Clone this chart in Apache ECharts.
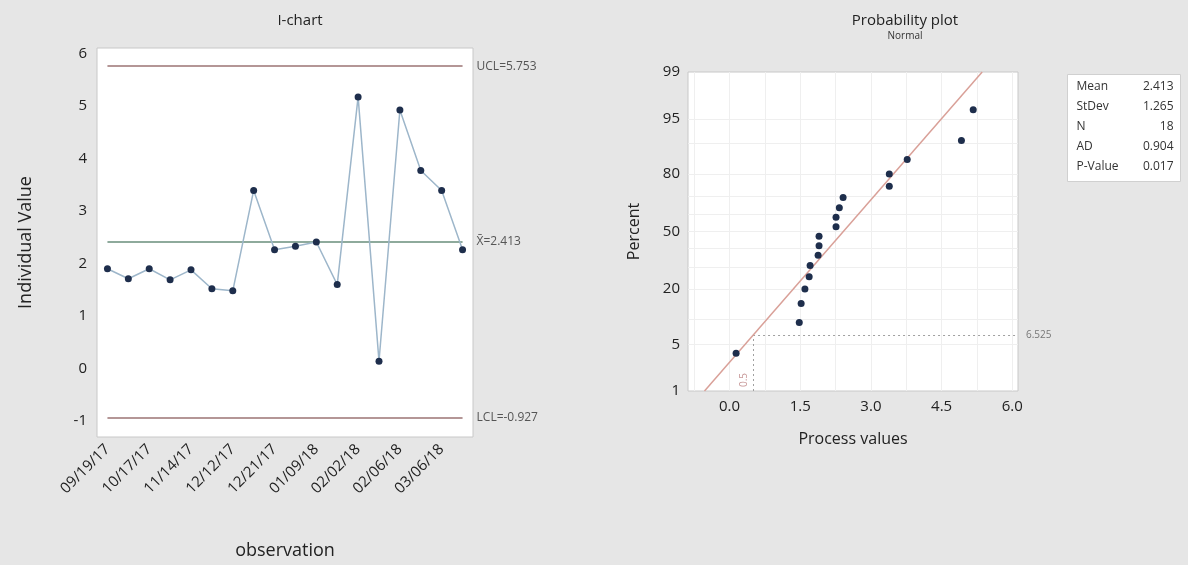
<!DOCTYPE html>
<html>
<head>
<meta charset="utf-8">
<script src="https://cdn.jsdelivr.net/npm/echarts@6/dist/echarts.min.js"></script>
<style>
html,body{margin:0;padding:0;background:#e6e6e6;}
#chart{width:1188px;height:565px;}
</style>
</head>
<body>
<div id="chart"></div>
<script>
// ---------- I-chart data ----------
const observations = ['1','2','3','4','5','6','7','8','9','10','11','12','13','14','15','16','17','18'];
const dateLabels = ['09/19/17','10/17/17','11/14/17','12/12/17','12/21/17','01/09/18','02/02/18','02/06/18','03/06/18'];
const individualValues = [1.90, 1.71, 1.90, 1.69, 1.88, 1.52, 1.48, 3.39, 2.26, 2.33, 2.41, 1.60, 5.17, 0.14, 4.92, 3.77, 3.39, 2.26];
const UCL = 5.753;
const MEAN = 2.413;
const LCL = -0.927;
const iChartYTicks = [-1, 0, 1, 2, 3, 4, 5, 6];

// ---------- Probability plot data ----------
const probPercent = [3.8, 9.2, 14.7, 20.1, 25.5, 31.0, 36.4, 41.8, 47.3, 52.7, 58.2, 63.6, 69.0, 74.5, 79.9, 85.3, 90.8, 96.2];
const fitLine = [[-0.53, 1], [5.36, 99]];
const probYTicks = [1, 5, 20, 50, 80, 95, 99];
const probYGrid = [1, 5, 10, 20, 30, 40, 50, 60, 70, 80, 90, 95, 99];
const probXTicks = [0, 1.5, 3, 4.5, 6];
const probXGrid = [-0.75, 0, 0.75, 1.5, 2.25, 3, 3.75, 4.5, 5.25, 6];
const refValue = 0.5;
const refPercent = 6.525;
const statLabels = ['Mean', 'StDev', 'N', 'AD', 'P-Value'];
const statValues = ['2.413', '1.265', '18', '0.904', '0.017'];

// normal probability scale (percent -> z)
function probit(p) {
  const a=[-3.969683028665376e+01,2.209460984245205e+02,-2.759285104469687e+02,1.383577518672690e+02,-3.066479806614716e+01,2.506628277459239e+00];
  const b=[-5.447609879822406e+01,1.615858368580409e+02,-1.556989798598866e+02,6.680131188771972e+01,-1.328068155288572e+01];
  const c=[-7.784894002430293e-03,-3.223964580411365e-01,-2.400758277161838e+00,-2.549732539343734e+00,4.374664141464968e+00,2.938163982698783e+00];
  const d=[7.784695709041462e-03,3.224671290700398e-01,2.445134137142996e+00,3.754408661907416e+00];
  const pl=0.02425, ph=1-pl;
  let q, r;
  if (p < pl) {
    q = Math.sqrt(-2*Math.log(p));
    return (((((c[0]*q+c[1])*q+c[2])*q+c[3])*q+c[4])*q+c[5])/((((d[0]*q+d[1])*q+d[2])*q+d[3])*q+1);
  } else if (p <= ph) {
    q = p-0.5; r = q*q;
    return (((((a[0]*r+a[1])*r+a[2])*r+a[3])*r+a[4])*r+a[5])*q/(((((b[0]*r+b[1])*r+b[2])*r+b[3])*r+b[4])*r+1);
  } else {
    q = Math.sqrt(-2*Math.log(1-p));
    return -(((((c[0]*q+c[1])*q+c[2])*q+c[3])*q+c[4])*q+c[5])/((((d[0]*q+d[1])*q+d[2])*q+d[3])*q+1);
  }
}
const z = pct => probit(pct/100);

const sortedValues = individualValues.slice().sort((x, y) => x - y);
const probPoints = sortedValues.map((v, i) => [v, z(probPercent[i])]);
const zTicks = probYTicks.map(z);

const FONT = 'Open Sans';
const chart = echarts.init(document.getElementById('chart'));

const option = {
  backgroundColor: '#e6e6e6',
  animation: false,
  textStyle: { fontFamily: FONT },
  title: [
    { text: 'I-chart', left: 295, top: 8, textAlign: 'center',
      textStyle: { fontSize: 15, fontWeight: 'normal', color: '#222', fontFamily: FONT } },
    { text: 'Probability plot', subtext: 'Normal', left: 900, top: 8, textAlign: 'center', itemGap: 3,
      textStyle: { fontSize: 15, fontWeight: 'normal', color: '#222', fontFamily: FONT },
      subtextStyle: { fontSize: 10, color: '#333', fontFamily: FONT } }
  ],
  grid: [
    { left: 97, top: 48, width: 376, height: 394, show: true, backgroundColor: '#ffffff', borderColor: '#c8c8c8', borderWidth: 1 },
    { left: 688, top: 72, width: 330, height: 319, show: true, backgroundColor: '#ffffff', borderColor: '#c8c8c8', borderWidth: 1 }
  ],
  xAxis: [
    { type: 'category', gridIndex: 0, data: observations, boundaryGap: true,
      axisLine: { show: false }, axisTick: { show: false }, splitLine: { show: false },
      axisLabel: { interval: 0, rotate: 45, margin: 10, fontSize: 15, color: '#222', fontFamily: FONT,
        formatter: (v, idx) => (idx % 2 === 0 ? dateLabels[idx / 2] : '') },
      name: 'observation', nameLocation: 'middle', nameGap: 105,
      nameTextStyle: { fontSize: 18, color: '#222', fontFamily: FONT } },
    { type: 'value', gridIndex: 1, min: -0.88, max: 6.12,
      axisLine: { show: false }, splitLine: { show: false },
      axisTick: { show: false, customValues: probXTicks },
      axisLabel: { customValues: probXTicks, margin: 8, fontSize: 15, color: '#222', fontFamily: FONT,
        formatter: v => v.toFixed(1) },
      name: 'Process values', nameLocation: 'middle', nameGap: 40,
      nameTextStyle: { fontSize: 16, color: '#222', fontFamily: FONT } }
  ],
  yAxis: [
    { type: 'value', gridIndex: 0, min: -1.3, max: 6.1,
      axisLine: { show: false }, splitLine: { show: false },
      axisTick: { show: false, customValues: iChartYTicks },
      axisLabel: { customValues: iChartYTicks, margin: 10, fontSize: 15, color: '#222', fontFamily: FONT },
      name: 'Individual Value', nameLocation: 'middle', nameGap: 62,
      nameTextStyle: { fontSize: 18, color: '#222', fontFamily: FONT } },
    { type: 'value', gridIndex: 1, min: z(1), max: z(99),
      axisLine: { show: false }, splitLine: { show: false },
      axisTick: { show: false, customValues: zTicks },
      axisLabel: { customValues: zTicks, margin: 8, fontSize: 15, color: '#222', fontFamily: FONT,
        formatter: v => {
          let best = 0;
          zTicks.forEach((t, i) => { if (Math.abs(t - v) < Math.abs(zTicks[best] - v)) best = i; });
          return String(probYTicks[best]);
        } },
      name: 'Percent', nameLocation: 'middle', nameGap: 46,
      nameTextStyle: { fontSize: 16, color: '#222', fontFamily: FONT } }
  ],
  series: [
    { type: 'line', xAxisIndex: 0, yAxisIndex: 0, data: individualValues,
      symbol: 'circle', symbolSize: 7,
      itemStyle: { color: '#1e2e4c', opacity: 1 },
      lineStyle: { color: '#9db6ca', width: 1.5 },
      z: 5,
      markLine: {
        silent: true, symbol: 'none', z: 2,
        label: { show: true, position: 'end', distance: 14, fontSize: 12, color: '#555', fontFamily: FONT },
        data: [
          [{ coord: [observations[0], UCL], lineStyle: { color: '#b49696', width: 2, type: 'solid' }, label: { formatter: 'UCL=' + UCL } },
           { coord: [observations[observations.length - 1], UCL] }],
          [{ coord: [observations[0], MEAN], lineStyle: { color: '#8eaa9c', width: 2, type: 'solid' }, label: { formatter: 'X\u0304=' + MEAN } },
           { coord: [observations[observations.length - 1], MEAN] }],
          [{ coord: [observations[0], LCL], lineStyle: { color: '#b49696', width: 2, type: 'solid' }, label: { formatter: 'LCL=' + LCL } },
           { coord: [observations[observations.length - 1], LCL] }]
        ]
      }
    },
    // grid lines for the probability plot
    { type: 'line', xAxisIndex: 1, yAxisIndex: 1, data: [], silent: true, z: 0,
      markLine: {
        silent: true, symbol: 'none', label: { show: false }, z: 0,
        lineStyle: { color: '#efefef', width: 1, type: 'solid' },
        data: probXGrid.map(v => ({ xAxis: v })).concat(probYGrid.map(p => ({ yAxis: z(p) })))
      }
    },
    // fitted normal line + percentile reference
    { type: 'line', xAxisIndex: 1, yAxisIndex: 1,
      data: fitLine.map(p => [p[0], z(p[1])]),
      symbol: 'none', lineStyle: { color: '#d9a098', width: 1.5 }, z: 8,
      markLine: {
        silent: true, symbol: 'none', z: 3,
        lineStyle: { color: '#a0a0a0', width: 1, type: [2, 3] },
        data: [
          [{ coord: [refValue, z(refPercent)], label: { show: true, position: 'end', distance: 8, formatter: String(refPercent), fontSize: 10, color: '#777' } },
           { coord: [6.12, z(refPercent)] }],
          [{ coord: [refValue, z(1)], label: { show: true, position: 'insideStartTop', distance: 4, formatter: String(refValue), fontSize: 10, color: '#c99a9a' } },
           { coord: [refValue, z(refPercent)] }]
        ]
      }
    },
    { type: 'scatter', xAxisIndex: 1, yAxisIndex: 1, data: probPoints,
      symbol: 'circle', symbolSize: 7, itemStyle: { color: '#1e2e4c', opacity: 1 }, z: 10 }
  ],
  graphic: [
    { type: 'group', left: 1067, top: 74,
      children: [
        { type: 'rect', shape: { x: 0, y: 0, width: 113, height: 107 },
          style: { fill: '#ffffff', stroke: '#d0d0d0', lineWidth: 1 } }
      ].concat(statLabels.map((s, i) => ({
        type: 'text', x: 9, y: 12 + i * 20,
        style: { text: s, fontSize: 12, fill: '#333', fontFamily: FONT, textVerticalAlign: 'middle' }
      }))).concat(statValues.map((s, i) => ({
        type: 'text', x: 106, y: 12 + i * 20,
        style: { text: s, fontSize: 12, fill: '#333', fontFamily: FONT, textAlign: 'right', textVerticalAlign: 'middle' }
      })))
    }
  ]
};
chart.setOption(option);
</script>
</body>
</html>
